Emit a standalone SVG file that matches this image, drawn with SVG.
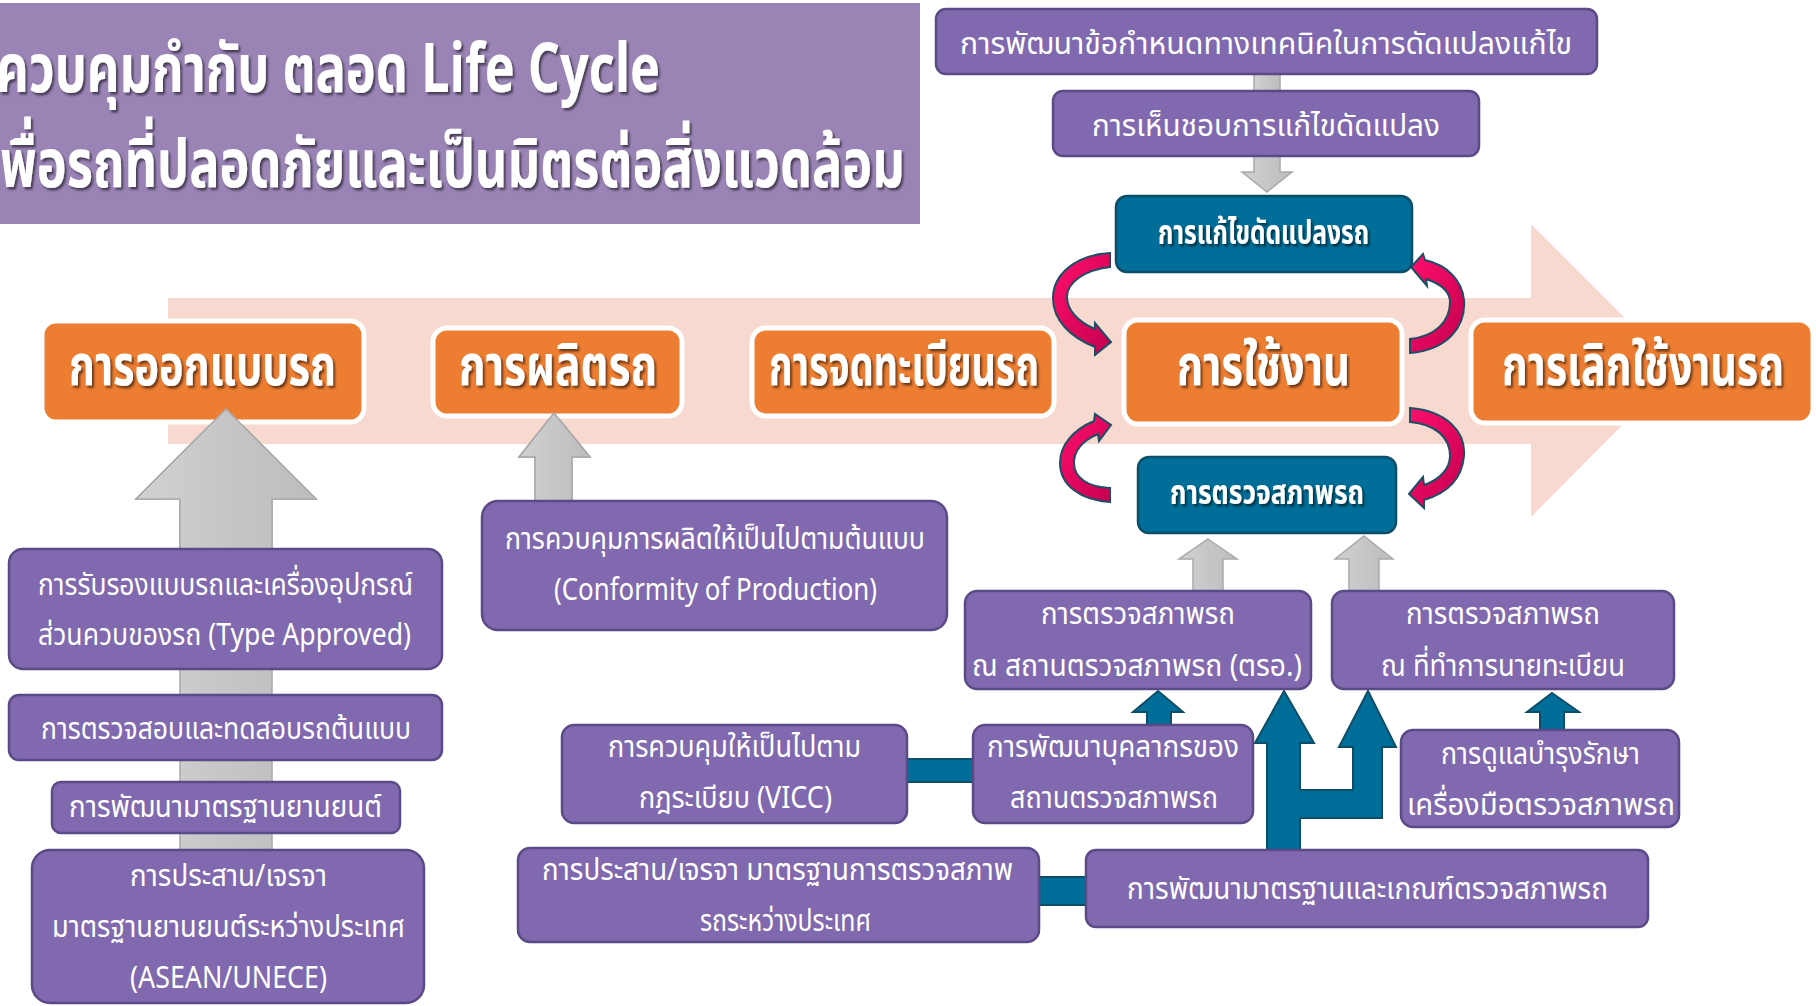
<svg xmlns="http://www.w3.org/2000/svg" width="1816" height="1006" viewBox="0 0 1816 1006">
<defs>
<style>
.pb{fill:#8069ae;stroke:#5b4a88;stroke-width:2.5}
.ob{fill:#ed7d31;stroke:#ffffff;stroke-width:5}
.tb{fill:#006e98;stroke:#0d4d68;stroke-width:2.5}
.gr{fill:url(#gg);stroke:#a9a9a9;stroke-width:1.5}
.ta{fill:#006e98;stroke:#0d4d68;stroke-width:2}
.ca{fill:url(#pk);stroke:#1d4e66;stroke-width:2}
.t{font-family:"Noto Sans Thai","Noto Sans","DejaVu Sans",sans-serif;fill:#ffffff;font-size:30px}
.tl{font-family:"Noto Sans Thai","Noto Sans","DejaVu Sans",sans-serif;fill:#ffffff;font-size:68px;font-weight:bold}
.to{font-family:"Noto Sans Thai","Noto Sans","DejaVu Sans",sans-serif;fill:#ffffff;font-size:56px;font-weight:bold}
.tt{font-family:"Noto Sans Thai","Noto Sans","DejaVu Sans",sans-serif;fill:#ffffff;font-size:34px;font-weight:bold}
</style>
<linearGradient id="gg" x1="0" y1="0" x2="1" y2="0">
<stop offset="0" stop-color="#d2d2d2"/><stop offset="0.5" stop-color="#c6c6c6"/><stop offset="1" stop-color="#bdbdbd"/>
</linearGradient>
<linearGradient id="pk" x1="0" y1="0" x2="1" y2="1">
<stop offset="0" stop-color="#ff0f6b"/><stop offset="1" stop-color="#c3004f"/>
</linearGradient>
<filter id="sh" x="-10%" y="-10%" width="130%" height="140%">
<feDropShadow dx="2" dy="2.5" stdDeviation="1.2" flood-color="#000" flood-opacity="0.55"/>
</filter>
</defs>

<!-- title -->
<g id="title">
<rect x="0" y="3" width="920" height="221" fill="#9a84b6"/>
<text class="tl" x="-4" y="92" textLength="664" lengthAdjust="spacingAndGlyphs" filter="url(#sh)">ควบคุมกำกับ ตลอด Life Cycle</text>
<text class="tl" x="0" y="187" textLength="905" lengthAdjust="spacingAndGlyphs" filter="url(#sh)">พื่อรถที่ปลอดภัยและเป็นมิตรต่อสิ่งแวดล้อม</text>
</g>

<!-- pink band arrow -->
<g id="band">
<polygon points="168,298 1531,298 1531,224 1677,370 1531,517 1531,444 168,444" fill="#f7d9cf"/>
</g>

<!-- connectors -->
<g id="connectors">
<!-- top gray connectors -->
<rect class="gr" x="1254" y="74" width="26" height="17"/>
<polygon class="gr" points="1254,156 1280,156 1280,172 1292,172 1267,192 1242,172 1254,172"/>
<!-- design gray arrow -->
<polygon class="gr" points="226,409 316,499 272,499 272,851 180,851 180,499 136,499"/>
<!-- production gray arrow -->
<polygon class="gr" points="554,413 590,457 572,457 572,502 535,502 535,457 519,457"/>
<!-- inspection gray arrows -->
<polygon class="gr" points="1208,539 1237,559 1223,559 1223,592 1193,592 1193,559 1179,559"/>
<polygon class="gr" points="1364,536 1393,559 1379,559 1379,592 1349,592 1349,559 1335,559"/>
<!-- teal bars -->
<rect class="ta" x="906" y="759" width="68" height="23"/>
<rect class="ta" x="1038" y="877" width="49" height="28"/>
<!-- teal arrows -->
<polygon class="ta" points="1158,691 1183,712 1171,712 1171,726 1147,726 1147,712 1133,712"/>
<polygon class="ta" points="1284,691 1314,743 1300,743 1300,790 1353,790 1353,747 1339,747 1368,691 1396,747 1382,747 1382,818 1300,818 1300,851 1267,851 1267,743 1255,743"/>
<polygon class="ta" points="1552,693 1579,712 1564,712 1564,731 1540,731 1540,712 1527,712"/>
<!-- curved arrows -->
<path class="ca" d="M1110,253 C1075,255 1053,275 1053,298 C1053,320 1070,337 1095,347 L1095,355 L1111,342 L1095,323 L1095,329 C1078,322 1067,310 1067,297 C1067,282 1085,270 1110,267 Z"/>
<path class="ca" d="M1410,353 C1448,350 1466,326 1464,300 C1462,280 1447,265 1425,260 L1423,254 L1411,267 L1427,286 L1426,279 C1441,284 1450,292 1450,302 C1450,322 1435,336 1410,339 Z"/>
<path class="ca" d="M1410,408 C1447,411 1466,432 1464,456 C1462,478 1448,493 1424,500 L1424,508 L1409,494 L1423,477 L1424,485 C1439,480 1450,469 1450,456 C1450,437 1435,424 1410,422 Z"/>
<path class="ca" d="M1110,502 C1080,500 1060,485 1060,463 C1060,445 1073,430 1094,421 L1095,414 L1111,425 L1099,441 L1098,434 C1084,440 1074,450 1074,463 C1074,478 1088,487 1110,488 Z"/>
</g>

<!-- top chain -->
<g id="n-spec">
<rect class="pb" x="936" y="9" width="661" height="65" rx="10"/>
<text class="t" x="960" y="54" textLength="612" lengthAdjust="spacingAndGlyphs">การพัฒนาข้อกำหนดทางเทคนิคในการดัดแปลงแก้ไข</text>
</g>
<g id="n-approve">
<rect class="pb" x="1053" y="91" width="426" height="65" rx="10"/>
<text class="t" x="1092" y="136" textLength="348" lengthAdjust="spacingAndGlyphs">การเห็นชอบการแก้ไขดัดแปลง</text>
</g>
<g id="n-modify">
<rect class="tb" x="1116" y="196" width="296" height="76" rx="11"/>
<text class="tt" x="1158" y="244" textLength="211" lengthAdjust="spacingAndGlyphs" filter="url(#sh)">การแก้ไขดัดแปลงรถ</text>
</g>

<!-- orange lifecycle boxes -->
<g id="n-design">
<rect class="ob" x="42" y="321" width="322" height="101" rx="14"/>
<text class="to" x="69" y="385" textLength="267" lengthAdjust="spacingAndGlyphs" filter="url(#sh)">การออกแบบรถ</text>
</g>
<g id="n-produce">
<rect class="ob" x="433" y="328" width="249" height="88" rx="14"/>
<text class="to" x="459" y="385" textLength="198" lengthAdjust="spacingAndGlyphs" filter="url(#sh)">การผลิตรถ</text>
</g>
<g id="n-register">
<rect class="ob" x="752" y="328" width="302" height="88" rx="14"/>
<text class="to" x="769" y="385" textLength="270" lengthAdjust="spacingAndGlyphs" filter="url(#sh)">การจดทะเบียนรถ</text>
</g>
<g id="n-use">
<rect class="ob" x="1124" y="320" width="278" height="104" rx="14"/>
<text class="to" x="1177" y="385" textLength="173" lengthAdjust="spacingAndGlyphs" filter="url(#sh)">การใช้งาน</text>
</g>
<g id="n-retire">
<rect class="ob" x="1471" y="320" width="342" height="103" rx="14"/>
<text class="to" x="1502" y="385" textLength="282" lengthAdjust="spacingAndGlyphs" filter="url(#sh)">การเลิกใช้งานรถ</text>
</g>

<g id="n-inspect">
<rect class="tb" x="1138" y="457" width="258" height="76" rx="11"/>
<text class="tt" x="1170" y="504" textLength="194" lengthAdjust="spacingAndGlyphs" filter="url(#sh)">การตรวจสภาพรถ</text>
</g>

<!-- redraw arrow tips over orange boxes -->
<g id="tips">
<polygon class="gr" points="226,409 316,499 272,499 272,550 180,550 180,499 136,499"/>
<polygon class="gr" points="554,413 590,457 572,457 572,502 535,502 535,457 519,457"/>
</g>

<!-- left column -->
<g id="n-type">
<rect class="pb" x="9" y="549" width="433" height="120" rx="14"/>
<text class="t" x="38" y="595" textLength="375" lengthAdjust="spacingAndGlyphs">การรับรองแบบรถและเครื่องอุปกรณ์</text>
<text class="t" x="38" y="645" textLength="373" lengthAdjust="spacingAndGlyphs">ส่วนควบของรถ (Type Approved)</text>
</g>
<g id="n-test">
<rect class="pb" x="9" y="695" width="433" height="65" rx="10"/>
<text class="t" x="41" y="739" textLength="370" lengthAdjust="spacingAndGlyphs">การตรวจสอบและทดสอบรถต้นแบบ</text>
</g>
<g id="n-std">
<rect class="pb" x="52" y="782" width="348" height="51" rx="9"/>
<text class="t" x="69" y="817" textLength="313" lengthAdjust="spacingAndGlyphs">การพัฒนามาตรฐานยานยนต์</text>
</g>
<g id="n-intl">
<rect class="pb" x="32" y="850" width="392" height="153" rx="18"/>
<text class="t" x="130" y="886" textLength="197" lengthAdjust="spacingAndGlyphs">การประสาน/เจรจา</text>
<text class="t" x="52" y="937" textLength="353" lengthAdjust="spacingAndGlyphs">มาตรฐานยานยนต์ระหว่างประเทศ</text>
<text class="t" x="130" y="988" textLength="197" lengthAdjust="spacingAndGlyphs">(ASEAN/UNECE)</text>
</g>
<g id="n-cop">
<rect class="pb" x="482" y="501" width="465" height="129" rx="16"/>
<text class="t" x="505" y="549" textLength="420" lengthAdjust="spacingAndGlyphs">การควบคุมการผลิตให้เป็นไปตามต้นแบบ</text>
<text class="t" x="554" y="600" textLength="323" lengthAdjust="spacingAndGlyphs">(Conformity of Production)</text>
</g>

<!-- right lower -->
<g id="n-tro">
<rect class="pb" x="965" y="591" width="346" height="98" rx="12"/>
<text class="t" x="1041" y="624" textLength="194" lengthAdjust="spacingAndGlyphs">การตรวจสภาพรถ</text>
<text class="t" x="972" y="676" textLength="330" lengthAdjust="spacingAndGlyphs">ณ สถานตรวจสภาพรถ (ตรอ.)</text>
</g>
<g id="n-registrar">
<rect class="pb" x="1332" y="591" width="342" height="98" rx="12"/>
<text class="t" x="1406" y="624" textLength="194" lengthAdjust="spacingAndGlyphs">การตรวจสภาพรถ</text>
<text class="t" x="1381" y="676" textLength="244" lengthAdjust="spacingAndGlyphs">ณ ที่ทำการนายทะเบียน</text>
</g>
<g id="n-vicc">
<rect class="pb" x="562" y="725" width="345" height="98" rx="12"/>
<text class="t" x="608" y="757" textLength="253" lengthAdjust="spacingAndGlyphs">การควบคุมให้เป็นไปตาม</text>
<text class="t" x="639" y="808" textLength="193" lengthAdjust="spacingAndGlyphs">กฎระเบียบ (VICC)</text>
</g>
<g id="n-staff">
<rect class="pb" x="973" y="725" width="280" height="98" rx="12"/>
<text class="t" x="987" y="757" textLength="252" lengthAdjust="spacingAndGlyphs">การพัฒนาบุคลากรของ</text>
<text class="t" x="1010" y="808" textLength="208" lengthAdjust="spacingAndGlyphs">สถานตรวจสภาพรถ</text>
</g>
<g id="n-tools">
<rect class="pb" x="1401" y="730" width="278" height="97" rx="12"/>
<text class="t" x="1441" y="764" textLength="199" lengthAdjust="spacingAndGlyphs">การดูแลบำรุงรักษา</text>
<text class="t" x="1407" y="815" textLength="268" lengthAdjust="spacingAndGlyphs">เครื่องมือตรวจสภาพรถ</text>
</g>
<g id="n-criteria">
<rect class="pb" x="1086" y="850" width="562" height="77" rx="10"/>
<text class="t" x="1127" y="899" textLength="481" lengthAdjust="spacingAndGlyphs">การพัฒนามาตรฐานและเกณฑ์ตรวจสภาพรถ</text>
</g>
<g id="n-intl2">
<rect class="pb" x="518" y="848" width="521" height="94" rx="12"/>
<text class="t" x="542" y="880" textLength="471" lengthAdjust="spacingAndGlyphs">การประสาน/เจรจา มาตรฐานการตรวจสภาพ</text>
<text class="t" x="700" y="931" textLength="171" lengthAdjust="spacingAndGlyphs">รถระหว่างประเทศ</text>
</g>
</svg>
